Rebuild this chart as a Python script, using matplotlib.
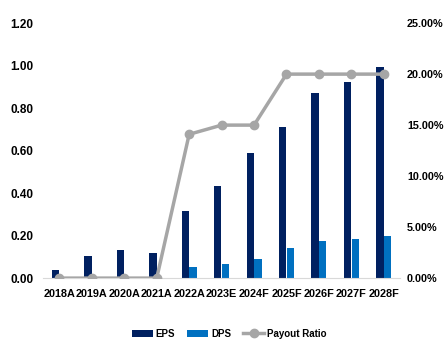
import matplotlib
matplotlib.use("Agg")
import matplotlib.pyplot as plt
import numpy as np
from matplotlib.ticker import FuncFormatter

years = ["2018A", "2019A", "2020A", "2021A", "2022A", "2023E",
         "2024F", "2025F", "2026F", "2027F", "2028F"]
eps = [0.04, 0.106, 0.131, 0.116, 0.317, 0.433, 0.587, 0.712, 0.869, 0.922, 0.994]
dps = [0.0, 0.0, 0.0, 0.0, 0.05, 0.066, 0.088, 0.142, 0.173, 0.184, 0.198]
payout = [0.0, 0.0, 0.0, 0.0, 14.1, 15.0, 15.0, 20.0, 20.0, 20.0, 20.0]

EPS_COLOR = "#002060"
DPS_COLOR = "#0070C0"
LINE_COLOR = "#A6A6A6"

plt.rcParams["font.family"] = ["Liberation Sans", "DejaVu Sans"]
plt.rcParams["font.weight"] = "bold"

fig = plt.figure(figsize=(4.45, 3.4), dpi=100)
ax = fig.add_axes([0.097, 0.182, 0.802, 0.750])
ax2 = ax.twinx()

x = np.arange(len(years))
w = 0.225
ax.bar(x - 0.118, eps, width=w, color=EPS_COLOR, label="EPS", zorder=2)
ax.bar(x + 0.118, dps, width=w, color=DPS_COLOR, label="DPS", zorder=2)
ax2.plot(x, payout, color=LINE_COLOR, linewidth=2.5, marker="o",
         markersize=6, label="Payout Ratio", zorder=3)

ax.set_xlim(-0.5, len(years) - 0.5)
ax.set_ylim(0, 1.2)
ax.set_yticks(np.arange(0, 1.21, 0.2))
ax.yaxis.set_major_formatter(FuncFormatter(lambda v, p: f"{v:.2f}"))
ax2.set_ylim(0, 25)
ax2.set_yticks(np.arange(0, 25.1, 5))
ax2.yaxis.set_major_formatter(FuncFormatter(lambda v, p: f"{v:.2f}%"))

ax.set_xticks(x)
ax.set_xticklabels(years)

for a in (ax, ax2):
    for s in ("top", "left", "right", "bottom"):
        a.spines[s].set_visible(False)
    a.tick_params(length=0, labelsize=8.5)
ax.spines["bottom"].set_visible(True)
ax.spines["bottom"].set_color("#D9D9D9")
ax.tick_params(axis="x", labelsize=7.8, pad=8)
ax.tick_params(axis="y", pad=7)
ax2.tick_params(axis="y", labelsize=7.8, pad=5)

ax2.set_zorder(ax.get_zorder() + 1)
ax2.patch.set_visible(False)

h1, l1 = ax.get_legend_handles_labels()
h2, l2 = ax2.get_legend_handles_labels()
fig.legend(h1 + h2, l1 + l2, loc="center", bbox_to_anchor=(0.515, 0.018),
           ncol=3, frameon=False, fontsize=7, handlelength=2.2,
           columnspacing=1.2, handletextpad=0.3)

fig.savefig("out.png", dpi=100)
